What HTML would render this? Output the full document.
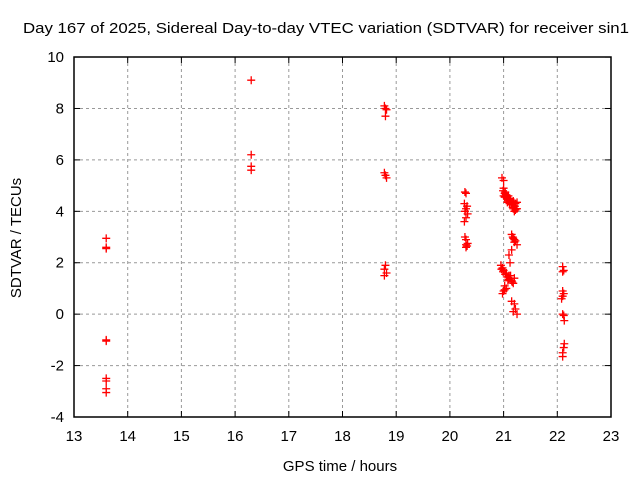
<!DOCTYPE html>
<html><head><meta charset="utf-8"><style>
body{margin:0;background:#fff}
svg{display:block;font-family:"Liberation Sans",sans-serif}
</style></head><body>
<svg id="c" width="640" height="480">
<rect width="640" height="480" fill="#fff"/>
<text x="326" y="33" font-size="15" text-anchor="middle" textLength="606" lengthAdjust="spacingAndGlyphs">Day 167 of 2025, Sidereal Day-to-day VTEC variation (SDTVAR) for receiver sin1</text>
<text x="340" y="471" font-size="15" text-anchor="middle">GPS time / hours</text>
<text x="21" y="238" font-size="15" text-anchor="middle" transform="rotate(-90 21 238)">SDTVAR / TECUs</text>
<g id="grid"></g><g id="ticks"></g><g id="marks"></g>
<rect x="74" y="57" width="537" height="360" fill="none" stroke="#000" stroke-width="1.5"/>
</svg>
<script>
const xTicks=[13,14,15,16,17,18,19,20,21,22,23];
const yTicks=[-4,-2,0,2,4,6,8,10];
const timeHours=[13.6,13.6,13.6,13.6,13.6,13.6,13.6,13.6,13.6,
16.3,16.3,16.3,16.3,
18.78,18.8,18.82,18.8,18.78,18.8,18.82,18.8,18.78,18.82,18.78,
20.28,20.3,20.27,20.32,20.3,20.28,20.33,20.3,20.27,20.28,20.3,20.33,20.3,20.32,20.3,
20.97,21.0,20.99,21.02,21.05,21.08,21.1,21.12,21.15,21.18,21.2,21.22,21.25,21.2,21.22,21.25,21.18,21.05,21.1,21.0,
21.0,21.02,21.04,21.06,21.08,21.1,21.03,21.07,21.12,21.14,21.16,21.09,21.11,21.13,21.17,21.19,21.21,21.23,
21.15,21.18,21.2,21.25,21.22,21.15,21.1,21.12,21.17,21.2,
20.95,20.98,21.0,21.05,21.1,21.12,21.15,21.2,21.18,21.05,21.0,20.98,21.02,21.08,20.96,20.99,21.03,21.06,21.09,21.13,21.16,21.02,
21.15,21.2,21.22,21.25,21.18,
22.1,22.12,22.1,22.1,22.12,22.1,22.08,22.1,22.12,22.13,22.13,22.12,22.1,22.1];
const sdtvar=[2.95,2.6,2.55,-1.0,-1.05,-2.5,-2.6,-2.9,-3.05,
9.1,6.2,5.75,5.6,
8.1,8.0,7.95,7.7,5.5,5.4,5.3,1.9,1.75,1.6,1.5,
4.75,4.7,4.3,4.2,4.1,4.0,3.9,3.75,3.6,3.0,2.9,2.75,2.7,2.65,2.6,
5.3,5.2,4.8,4.7,4.6,4.5,4.5,4.4,4.3,4.4,4.2,4.3,4.35,4.0,4.05,4.1,4.1,4.6,4.4,4.9,
4.6,4.55,4.65,4.5,4.4,4.45,4.75,4.35,4.5,4.3,4.25,4.6,4.3,4.45,4.15,4.35,4.2,4.1,
3.1,2.95,2.8,2.7,2.85,2.5,2.3,2.0,3.0,2.9,
1.9,1.8,1.7,1.6,1.5,1.4,1.3,1.4,1.2,1.0,0.9,0.8,1.1,1.3,1.75,1.65,1.55,1.45,1.35,1.5,1.25,0.95,
0.5,0.4,0.2,0.0,0.1,
1.85,1.7,1.65,0.9,0.8,0.7,0.6,0.0,-0.05,-0.25,-1.15,-1.3,-1.5,-1.65];
const NS='http://www.w3.org/2000/svg';
const X=v=>74+(v-13)*53.7, Y=v=>417-(v+4)*25.71;
function mk(t,a,p){const e=document.createElementNS(NS,t);for(const k in a)e.setAttribute(k,a[k]);p.appendChild(e);return e;}
const g=document.getElementById('grid'),tk=document.getElementById('ticks'),m=document.getElementById('marks');
xTicks.forEach(v=>{const x=X(v);
 if(v>13&&v<23){const l=mk('line',{x1:x,x2:x,y1:57,y2:417,stroke:'#999','stroke-dasharray':'3,3'},g);
 }
 mk('line',{x1:x,x2:x,y1:417,y2:411,stroke:'#000'},tk);mk('line',{x1:x,x2:x,y1:57,y2:63,stroke:'#000'},tk);
 const t=mk('text',{x:x,y:441,'font-size':15,'text-anchor':'middle'},tk);t.textContent=v;
 });
yTicks.forEach(v=>{const y=Y(v);
 if(v>-4&&v<10){const l=mk('line',{x1:74,x2:611,y1:y,y2:y,stroke:'#999','stroke-dasharray':'3,3'},g);
 }
 mk('line',{x1:74,x2:80,y1:y,y2:y,stroke:'#000'},tk);mk('line',{x1:611,x2:605,y1:y,y2:y,stroke:'#000'},tk);
 const t=mk('text',{x:64,y:y+5,'font-size':15,'text-anchor':'end'},tk);t.textContent=v;
 });
timeHours.forEach((h,i)=>{const x=X(h),y=Y(sdtvar[i]);
 const p=mk('path',{d:`M${x-4},${y}H${x+4}M${x},${y-4}V${y+4}`,stroke:'#f00','stroke-width':1.3},m);
 });
</script>
</body></html>
